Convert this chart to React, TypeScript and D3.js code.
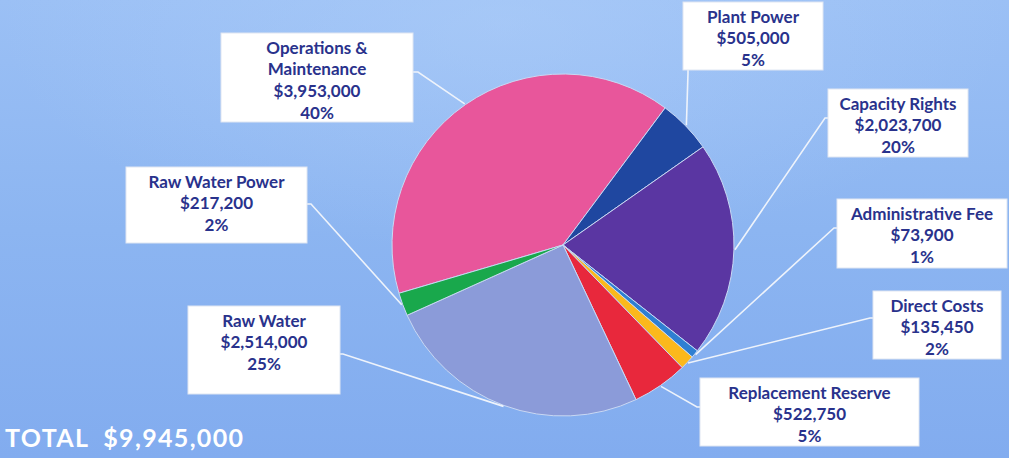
import React from 'react';
import * as d3 from 'd3';

const categories = [
  'Operations & Maintenance',
  'Plant Power',
  'Capacity Rights',
  'Administrative Fee',
  'Direct Costs',
  'Replacement Reserve',
  'Raw Water',
  'Raw Water Power',
];
const amounts = [3953000, 505000, 2023700, 73900, 135450, 522750, 2514000, 217200];
const percentLabels = ['40%', '5%', '20%', '1%', '2%', '5%', '25%', '2%'];
const totalLabel = 'TOTAL  $9,945,000';

const colors = ['#e8569b', '#1f47a0', '#5a36a2', '#2f7fd2', '#fbb81c', '#e8283c', '#8b9bd9', '#19a84c'];

// label boxes: [x, y, w, h], title lines, leader elbow + end point
interface LabelLayout {
  box: [number, number, number, number];
  title: string[];
  elbow: [number, number];
  end: [number, number];
}
const layout: LabelLayout[] = [
  { box: [221, 33, 192, 89], title: ['Operations &', 'Maintenance'], elbow: [418, 72], end: [413, 72] },
  { box: [683, 2, 140, 68], title: ['Plant Power'], elbow: [688, 73], end: [688, 70] },
  { box: [828, 89, 140, 68], title: ['Capacity Rights'], elbow: [825, 118], end: [828, 118] },
  { box: [837, 199, 170, 69], title: ['Administrative Fee'], elbow: [834, 228], end: [837, 228] },
  { box: [873, 291, 128, 68], title: ['Direct Costs'], elbow: [870, 318], end: [873, 318] },
  { box: [700, 378, 219, 68], title: ['Replacement Reserve'], elbow: [697, 407], end: [700, 407] },
  { box: [188, 306, 152, 88], title: ['Raw Water'], elbow: [343, 354], end: [340, 354] },
  { box: [126, 167, 181, 76], title: ['Raw Water Power'], elbow: [311, 204], end: [307, 204] },
];

const W = 1009;
const H = 458;
const cx = 563;
const cy = 245;
const radius = 171;
const startDeg = -106.4;

const fmt = d3.format('$,');
const font = 'Lato, "DejaVu Sans", sans-serif';
const textColor = '#29328c';

export default function App() {
  const data = categories.map((c, i) => ({ name: c, value: amounts[i], pct: percentLabels[i], i }));
  const pie = d3
    .pie<typeof data[number]>()
    .sort(null)
    .value((d) => d.value)
    .startAngle((startDeg * Math.PI) / 180)
    .endAngle((startDeg * Math.PI) / 180 + 2 * Math.PI);
  const arcs = pie(data);
  const arc = d3.arc<d3.PieArcDatum<typeof data[number]>>().innerRadius(0).outerRadius(radius);

  return (
    <div style={{ position: 'fixed', left: 0, top: 0 }}>
      <svg width={W} height={H} style={{ display: 'block' }}>
        <defs>
          <linearGradient id="bg" x1="0" y1="0" x2="0" y2="1">
            <stop offset="0" stopColor="#9bc0f5" />
            <stop offset="0.5" stopColor="#8cb5f1" />
            <stop offset="1" stopColor="#82acef" />
          </linearGradient>
          <radialGradient id="glow" cx="0.5" cy="0.05" r="0.5">
            <stop offset="0" stopColor="#b4d2fa" stopOpacity="0.45" />
            <stop offset="1" stopColor="#b4d2fa" stopOpacity="0" />
          </radialGradient>
        </defs>
        <rect width={W} height={H} fill="url(#bg)" />
        <rect width={W} height={H} fill="url(#glow)" />

        <g transform={`translate(${cx},${cy})`}>
          {arcs.map((a) => (
            <path key={a.data.name} d={arc(a) || ''} fill={colors[a.data.i]} stroke="#c9d8f3" strokeWidth={1} />
          ))}
        </g>

        {arcs.map((a) => {
          const mid = (a.startAngle + a.endAngle) / 2;
          const px = cx + Math.sin(mid) * (radius + 1);
          const py = cy - Math.cos(mid) * (radius + 1);
          const l = layout[a.data.i];
          return (
            <polyline
              key={'ln' + a.data.name}
              points={`${px},${py} ${l.elbow[0]},${l.elbow[1]} ${l.end[0]},${l.end[1]}`}
              fill="none"
              stroke="#eef3fb"
              strokeWidth={1.6}
            />
          );
        })}

        {data.map((d) => {
          const l = layout[d.i];
          const [x, y, w, h] = l.box;
          const lines = [...l.title, fmt(d.value), d.pct];
          const mx = x + w / 2;
          return (
            <g key={'lb' + d.name}>
              <rect x={x} y={y} width={w} height={h} fill="#ffffff" stroke="#dfe6f2" strokeWidth={1} />
              {lines.map((t, k) => (
                <text
                  key={k}
                  x={mx}
                  y={y + 20.5 + k * 21.7}
                  textAnchor="middle"
                  fontFamily={font}
                  fontWeight={700}
                  fontSize={17}
                  fill={textColor}
                >
                  {t}
                </text>
              ))}
            </g>
          );
        })}

        <text
          x={5}
          y={447}
          fontFamily={font}
          fontWeight={700}
          fontSize={25}
          fill="#ffffff"
          textLength={238}
          lengthAdjust="spacing"
          style={{ whiteSpace: 'pre' }}
        >
          {totalLabel}
        </text>
      </svg>
    </div>
  );
}
